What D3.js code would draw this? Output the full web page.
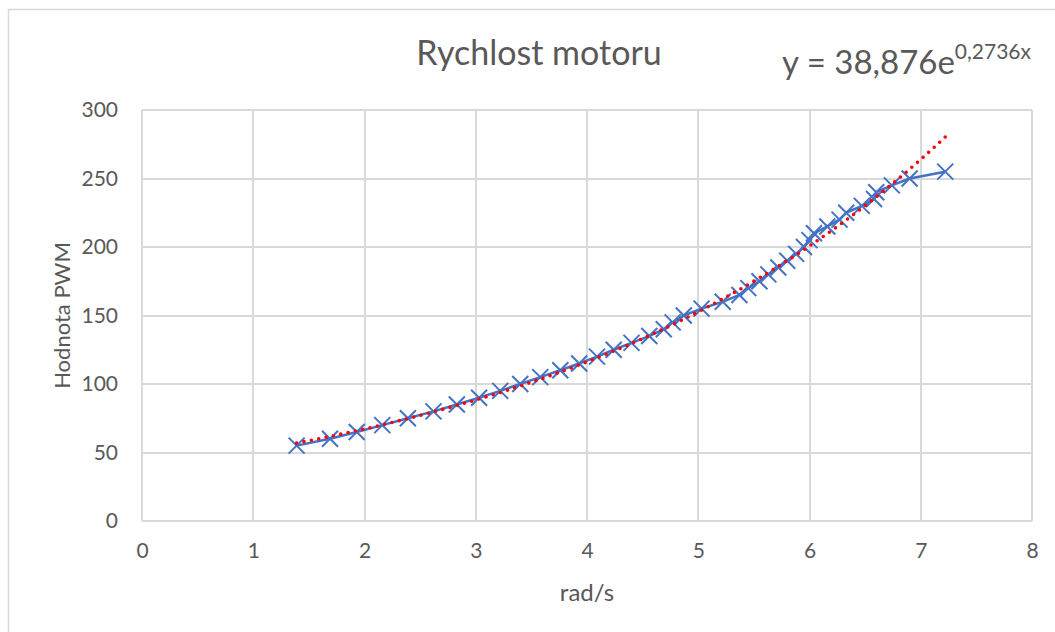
<!DOCTYPE html>
<meta charset="utf-8">
<style>
  body { margin: 0; background: #fff; }
  text { font-family: Lato, "Open Sans", sans-serif; fill: #595959; }
  .grid line { stroke: #d9d9d9; stroke-width: 2px; shape-rendering: crispEdges; }
  .axis path, .axis line { display: none; }
  .axis text { font-size: 21px; fill: #595959; }
</style>
<body>
  <div id="chart"></div>
</body>
<script src="https://cdnjs.cloudflare.com/ajax/libs/d3/7.8.5/d3.min.js"></script>
<script>

  // measured points: angular speed [rad/s] vs PWM value
  var speed = [1.39, 1.69, 1.93, 2.16, 2.39, 2.62, 2.83, 3.03, 3.22, 3.40,
    3.58, 3.76, 3.93, 4.09, 4.24, 4.40, 4.56, 4.69, 4.77, 4.87,
    5.03, 5.22, 5.37, 5.45, 5.55, 5.63, 5.72, 5.80, 5.88, 5.95,
    6.00, 6.04, 6.16, 6.27, 6.33, 6.47, 6.58, 6.60, 6.74, 6.90, 7.22];
  var pwm = [55, 60, 65, 70, 75, 80, 85, 90, 95, 100,
    105, 110, 115, 120, 125, 130, 135, 140, 145, 150,
    155, 160, 165, 170, 175, 180, 185, 190, 195, 200,
    205, 210, 215, 220, 225, 230, 235, 240, 245, 250, 255];

  var xTicks = [0, 1, 2, 3, 4, 5, 6, 7, 8];
  var yTicks = [0, 50, 100, 150, 200, 250, 300];

  // exponential trendline coefficients as shown on the chart
  var trendA = 38.876,
    trendB = 0.2736;

  var width = 1055,
    height = 632;

  var plot = { left: 142, right: 1032, top: 110, bottom: 521 };

  var x = d3.scaleLinear().domain([0, 8]).range([plot.left, plot.right]);
  var y = d3.scaleLinear().domain([0, 300]).range([plot.bottom, plot.top]);

  var svg = d3.select("#chart").append("svg")
    .attr("width", width)
    .attr("height", height);

  // chart frame
  svg.append("rect")
    .attr("x", 8.5).attr("y", 9.5)
    .attr("width", 1060).attr("height", 640)
    .attr("fill", "none")
    .attr("stroke", "#d9d9d9")
    .attr("stroke-width", 1.5);

  // gridlines
  var grid = svg.append("g").attr("class", "grid");
  grid.selectAll(".h").data(yTicks).enter().append("line")
    .attr("x1", plot.left).attr("x2", plot.right)
    .attr("y1", function (d) { return y(d); })
    .attr("y2", function (d) { return y(d); });
  grid.selectAll(".v").data(xTicks).enter().append("line")
    .attr("y1", plot.top).attr("y2", plot.bottom)
    .attr("x1", function (d) { return x(d); })
    .attr("x2", function (d) { return x(d); });

  // axes (labels only)
  svg.append("g")
    .attr("class", "axis")
    .attr("transform", "translate(0," + plot.bottom + ")")
    .call(d3.axisBottom(x).tickValues(xTicks).tickSize(0).tickPadding(22));

  svg.append("g")
    .attr("class", "axis")
    .attr("transform", "translate(" + plot.left + ",0)")
    .call(d3.axisLeft(y).tickValues(yTicks).tickSize(0).tickPadding(24));

  // data line
  var pts = speed.map(function (d, i) { return [d, pwm[i]]; });

  var line = d3.line()
    .x(function (d) { return x(d[0]); })
    .y(function (d) { return y(d[1]); });

  svg.append("path")
    .datum(pts)
    .attr("fill", "none")
    .attr("stroke", "#4472c4")
    .attr("stroke-width", 2.5)
    .attr("stroke-linejoin", "round")
    .attr("d", line);

  // markers
  var m = 8;
  svg.selectAll(".mark").data(pts).enter().append("path")
    .attr("class", "mark")
    .attr("transform", function (d) { return "translate(" + x(d[0]) + "," + y(d[1]) + ")"; })
    .attr("d", "M" + -m + "," + -m + "L" + m + "," + m + "M" + -m + "," + m + "L" + m + "," + -m)
    .attr("stroke", "#4472c4")
    .attr("stroke-width", 2)
    .attr("fill", "none");

  // trendline over the data range
  var xMin = d3.min(speed), xMax = d3.max(speed);
  var trend = d3.range(0, 101).map(function (i) {
    var v = xMin + (xMax - xMin) * i / 100;
    return [v, trendA * Math.exp(trendB * v)];
  });

  svg.append("path")
    .datum(trend)
    .attr("fill", "none")
    .attr("stroke", "#ff0000")
    .attr("stroke-width", 3.6)
    .attr("stroke-linecap", "round")
    .attr("stroke-dasharray", "0 7.5")
    .attr("d", line);

  // titles
  svg.append("text")
    .attr("x", 539).attr("y", 65)
    .attr("text-anchor", "middle")
    .style("font-size", "34px")
    .text("Rychlost motoru");

  var eq = svg.append("text")
    .attr("x", 782).attr("y", 74)
    .style("font-size", "33px");
  eq.append("tspan").text("y = 38,876e");
  eq.append("tspan").attr("dy", -15).style("font-size", "21px").text("0,2736x");

  svg.append("text")
    .attr("x", x(4)).attr("y", 601)
    .attr("text-anchor", "middle")
    .style("font-size", "24px")
    .text("rad/s");

  svg.append("text")
    .attr("transform", "translate(70," + y(150) + ") rotate(-90)")
    .attr("text-anchor", "middle")
    .style("font-size", "22px")
    .text("Hodnota PWM");

</script>
